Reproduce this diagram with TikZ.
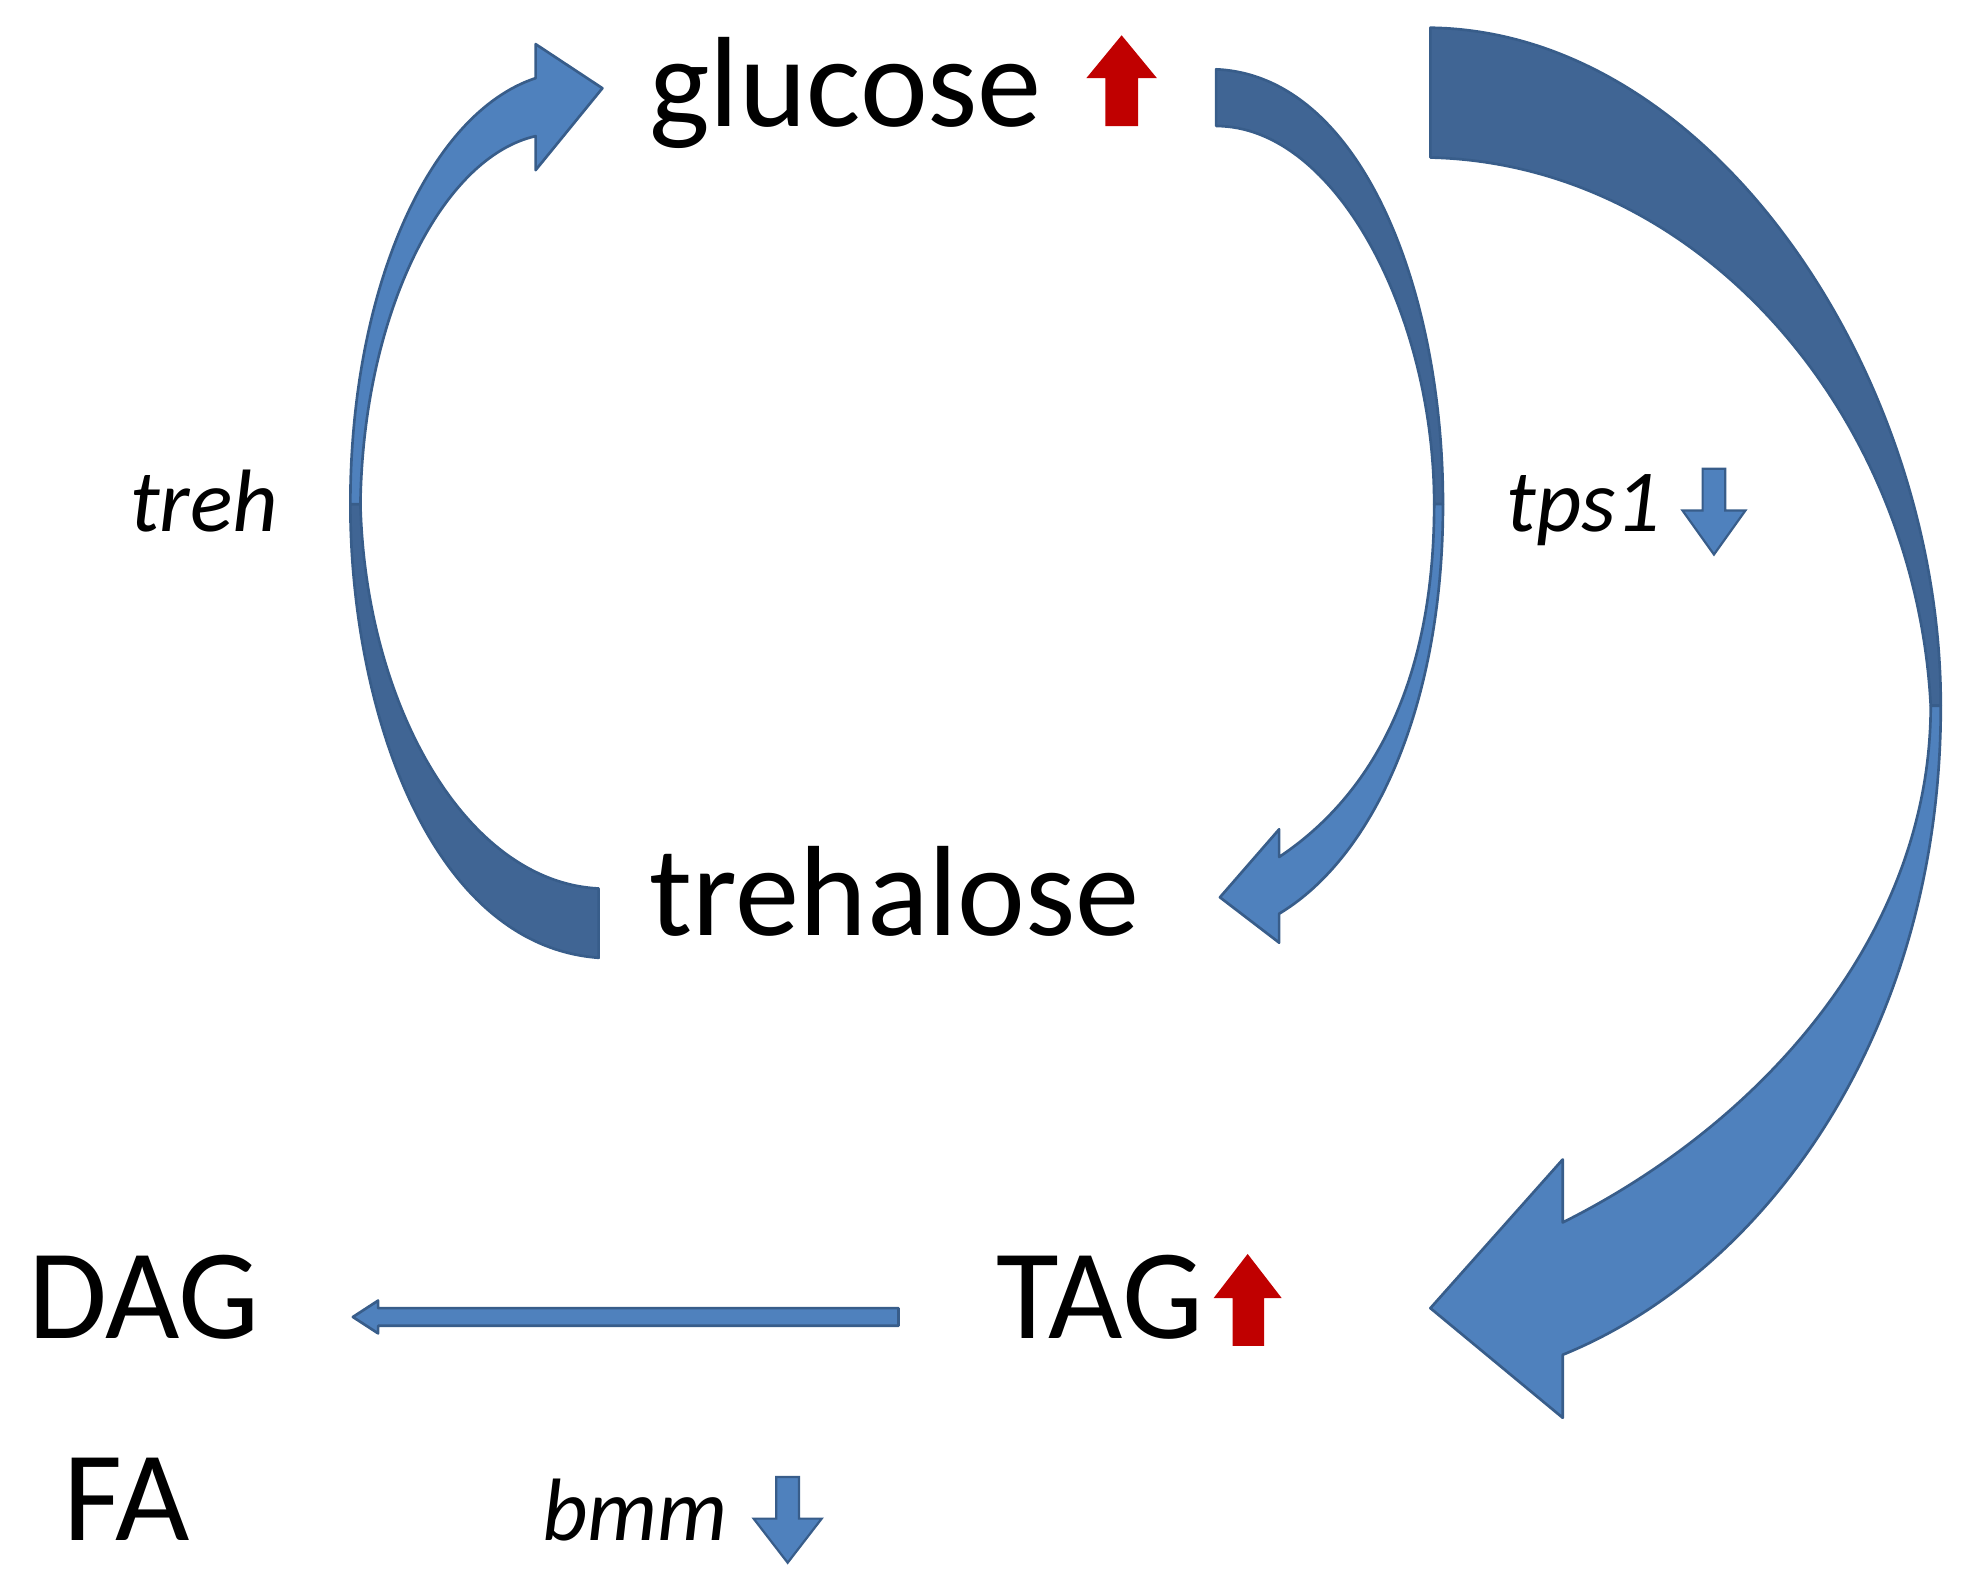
\documentclass[tikz,border=0pt]{standalone}
\usepackage{fontspec}
\setmainfont{Carlito}
\begin{document}
\begin{tikzpicture}[x=0.02cm,y=-0.02cm,
  big/.style={font=\fontsize{58}{60}\selectfont,inner sep=0,anchor=base west},
  lab/.style={font=\itshape\fontsize{40}{42}\selectfont,inner sep=0,anchor=base west},
  lite/.style={fill={rgb,255:red,79;green,129;blue,189},draw={rgb,255:red,56;green,93;blue,138},line width=1.2pt,line join=round},
  dark/.style={fill={rgb,255:red,64;green,101;blue,148},draw={rgb,255:red,56;green,93;blue,138},line width=1.2pt,line join=round},
  redarr/.style={fill={rgb,255:red,192;green,0;blue,0},draw=none},
  bluearr/.style={fill={rgb,255:red,79;green,129;blue,189},draw={rgb,255:red,56;green,93;blue,138},line width=1pt}]
\useasboundingbox (0,0) rectangle (1560,1258);
% left arrow (treh)
\path[dark] (475,760) .. controls (340,750) and (278,560) .. (278,400) -- (286,400) .. controls (290,560) and (370,700) .. (475,705) -- cycle;
\path[lite] (278,400) .. controls (278,230) and (340,90) .. (425,62) -- (425,35) -- (478,70) -- (425,135) -- (425,108) .. controls (350,125) and (288,250) .. (286,400) -- cycle;
% right arrow (tps1)
\path[dark] (965,55) .. controls (1080,60) and (1145,230) .. (1145,400) -- (1138,400) .. controls (1138,250) and (1060,100) .. (965,100) -- cycle;
\path[lite] (1145,400) .. controls (1145,560) and (1090,680) .. (1015,725) -- (1015,748) -- (968,712) -- (1015,658) -- (1015,680) .. controls (1090,630) and (1138,540) .. (1138,400) -- cycle;
% big arrow
\path[dark] (1135,22) .. controls (1360,25) and (1540,300) .. (1540,560) -- (1532,560) .. controls (1520,330) and (1350,130) .. (1135,125) -- cycle;
\path[lite] (1540,560) .. controls (1540,820) and (1400,1010) .. (1240,1075) -- (1240,1125) -- (1135,1038) -- (1240,920) -- (1240,970) .. controls (1400,890) and (1532,740) .. (1532,560) -- cycle;
% straight arrow
\path[lite] (713,1038) -- (300,1038) -- (300,1032) -- (280,1045) -- (300,1058) -- (300,1052) -- (713,1052) -- cycle;
% red up arrows
\path[redarr] (877,100) -- (877,62) -- (862,62) -- (890,28) -- (918,62) -- (903,62) -- (903,100) -- cycle;
\path[redarr] (978,1068) -- (978,1030) -- (963,1030) -- (990,995) -- (1017,1030) -- (1003,1030) -- (1003,1068) -- cycle;
% blue down arrows
\path[bluearr] (1351,372) -- (1369,372) -- (1369,405) -- (1385,405) -- (1360,440) -- (1335,405) -- (1351,405) -- cycle;
\path[bluearr] (616,1172) -- (634,1172) -- (634,1205) -- (652,1205) -- (625,1240) -- (598,1205) -- (616,1205) -- cycle;
% texts
\node[big] (glucose) at (515,100) {glucose};
\node[big] (trehalose) at (515,742) {trehalose};
\node[big] (DAG) at (22,1062) {DAG};
\node[big] (TAG) at (790,1062) {TAG};
\node[big] (FA) at (50,1222) {FA};
\node[lab] (treh) at (103,422) {treh};
\node[lab] (tps1) at (1195,422) {tps1};
\node[lab] (bmm) at (430,1222) {bmm};
\end{tikzpicture}
\end{document}
